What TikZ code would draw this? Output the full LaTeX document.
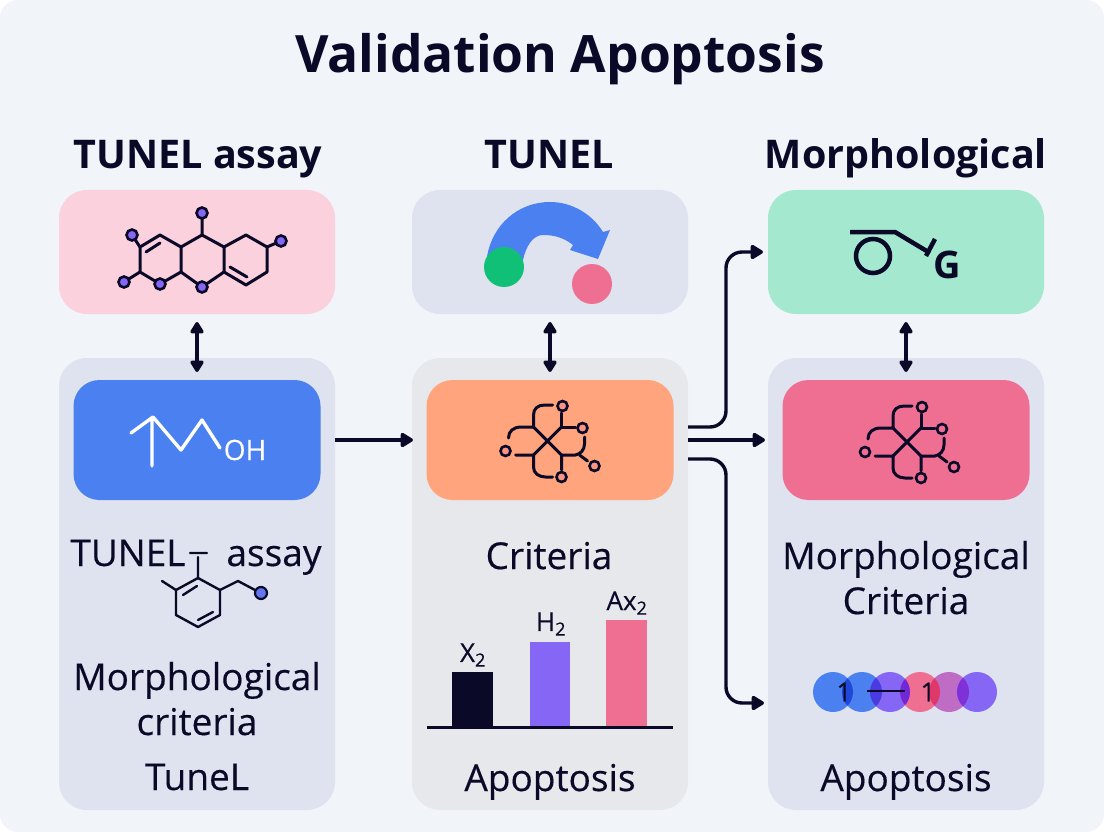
\documentclass[tikz,border=0pt]{standalone}
\usepackage{fontspec}
\setmainfont{Open Sans}
\newfontfamily\labfont[FakeBold=0.35]{Open Sans}
\usetikzlibrary{arrows.meta,calc}
\definecolor{pagebg}{HTML}{F1F4F8}
\definecolor{inkdark}{HTML}{0A0A28}
\definecolor{panelblue}{HTML}{DFE3F0}
\definecolor{panelgrey}{HTML}{E7E8EC}
\definecolor{rosebox}{HTML}{FAD1DC}
\definecolor{mintbox}{HTML}{A5E8D0}
\definecolor{bluebox}{HTML}{4A80F0}
\definecolor{orangebox}{HTML}{FFA47C}
\definecolor{pinkbox}{HTML}{EF6F93}
\definecolor{purplefill}{HTML}{8566F5}
\definecolor{mauvefill}{HTML}{BE6CC4}
\definecolor{greenfill}{HTML}{10C076}
\tikzset{
  panel/.style={rounded corners=28pt,minimum width=276pt,minimum height=#1,inner sep=0pt,outer sep=0pt},
  iconbox/.style={rounded corners=26pt,minimum width=247pt,minimum height=120pt,inner sep=0pt,outer sep=0pt},
  head/.style={font=\fontsize{39.5}{40}\selectfont\bfseries,text=inkdark,anchor=base,inner sep=0pt},
  lab/.style={font=\fontsize{37}{40}\selectfont\labfont,text=inkdark,anchor=base,inner sep=0pt},
  small/.style={font=\fontsize{26}{26}\selectfont\labfont,text=inkdark,inner sep=0pt},
  bond/.style={draw=inkdark,line width=3pt,line cap=round,line join=round},
  atom/.style={draw=inkdark,line width=2.6pt,fill=purplefill},
  link/.style={draw=inkdark,line width=3.4pt,-{Triangle[length=14pt,width=16pt,round]}},
  twoway/.style={draw=inkdark,line width=3.4pt,{Triangle[length=13pt,width=15pt,round]}-{Triangle[length=13pt,width=15pt,round]},shorten <=8pt,shorten >=8pt}
}
% branched motif used on the orange and the pink box
\newcommand{\motif}[3]{
  \begin{scope}[shift={(#1,#2)}]
    \draw[bond] (-14,14) -- (14,-14) (-14,-14) -- (14,14);
    \draw[bond] (5,-36) -- (-3,-36) .. controls (-10,-36) and (-14,-32) .. (-14,-26) -- (-14,-14) -- (-26,-14) .. controls (-34,-14) and (-39,-10) .. (-39,-3);
    \draw[bond] (-32,14) -- (-14,14) -- (-14,26) .. controls (-14,32) and (-9,36) .. (-2,36) -- (5,36);
    \draw[bond] (14,-28) -- (14,-14) -- (28,-14);
    \draw[bond] (14,29) -- (14,14) -- (28,14) .. controls (33,13) and (37,9) .. (37,3) -- (37,-4);
    \draw[bond] (32,14) -- (40,20);
    \draw[atom,fill=#3] (15,-35) circle (5);
    \draw[atom,fill=#3] (35,-13) circle (5);
    \draw[atom,fill=#3] (-42,10) circle (5);
    \draw[atom,fill=#3] (14,36) circle (5);
    \draw[atom,fill=#3] (47,25) circle (5);
  \end{scope}
}
\begin{document}
\begin{tikzpicture}[x=1pt,y=-1pt]
  \useasboundingbox (0,0) rectangle (1104,832);
  \fill[white] (0,0) rectangle (1104,832);
  \fill[pagebg,rounded corners=18pt] (0,0) rectangle (1104,832);

  % panels and boxes
  \node[panel=452pt,fill=panelblue] (leftpanel) at (197,584) {};
  \node[panel=452pt,fill=panelgrey] (midpanel) at (550,584) {};
  \node[panel=452pt,fill=panelblue] (rightpanel) at (906,584) {};
  \node[panel=124pt,fill=rosebox] (tunelbox) at (197,252) {};
  \node[panel=124pt,fill=panelblue] (turnbox) at (550,252) {};
  \node[panel=124pt,fill=mintbox] (morphbox) at (906,252) {};
  \node[iconbox,fill=bluebox] (hydroxbox) at (197,440) {};
  \node[iconbox,fill=orangebox] (critbox) at (550,440) {};
  \node[iconbox,fill=pinkbox] (morphcrit) at (906,440) {};

  % texts
  \node[font=\fontsize{51.5}{52}\selectfont\bfseries,text=inkdark,anchor=base,inner sep=0pt] (title) at (560,73) {Validation Apoptosis};
  \node[head] (headleft) at (198,169) {TUNEL assay};
  \node[head] (headmid) at (549,169) {TUNEL};
  \node[head] (headright) at (906,169) {Morphological};
  \node[lab] (assayname) at (128,566) {TUNEL};
  \node[lab] (assayword) at (274,566) {assay};
  \node[lab] (leftcritA) at (197,690) {Morphological};
  \node[lab] (leftcritB) at (197,735) {criteria};
  \node[lab] (leftname) at (197,790) {TuneL};
  \node[lab] (midcrit) at (549,569) {Criteria};
  \node[lab] (midname) at (550,791) {Apoptosis};
  \node[lab] (rightcritA) at (906,569) {Morphological};
  \node[lab] (rightcritB) at (906,614) {Criteria};
  \node[lab] (rightname) at (906,791) {Apoptosis};

  % connectors
  \draw[twoway] (tunelbox.south) to (hydroxbox.north);
  \draw[twoway] (turnbox.south) to (critbox.north);
  \draw[twoway] (morphbox.south) to (morphcrit.north);
  \draw[link,shorten >=-1pt] (leftpanel.east |- hydroxbox) to (midpanel.west |- critbox);
  \draw[link,shorten >=3pt] (midpanel.east |- critbox) to (rightpanel.west |- morphcrit);
  \coordinate (forkup) at (688,427);
  \coordinate (forkdown) at (688,459);
  \coordinate (dotsend) at (764,703);
  \draw[link,rounded corners=16pt,shorten >=5pt] (forkup) -- (726,427) -- (726,252) -- (morphbox.west);
  \draw[link,rounded corners=16pt] (forkdown) -- (726,459) -- (726,703) -- (dotsend);

  % ring system on the rose box
  \draw[bond] (140,247) -- (160,235) -- (181,247) -- (202,235) -- (224,247) -- (246,235) -- (267,247) -- (267,272) -- (246,285) -- (224,272) -- (202,287) -- (181,272) -- (160,284) -- (140,272) -- cycle;
  \draw[bond] (181,247) -- (181,272) (224,247) -- (224,272) (202,235) -- (202,213) (267,247) -- (281,241) (140,272) -- (124,282) (140,247) -- (132,235);
  \draw[bond] (146,252) -- (160,243) (230,267) -- (247,277);
  \foreach \px/\py in {202/213,132/235,281/241,124/282,160/284,202/287}
    \draw[atom] (\px,\py) circle (5.5);

  % white chain on the blue box
  \draw[white,line width=3.4pt,line cap=round,line join=round] (131,433) -- (153,417) -- (181,450) -- (202,420) -- (220,448) (152,420) -- (152,466);
  \node[font=\fontsize{28}{28}\selectfont\labfont,text=white,inner sep=0pt] (ohlabel) at (245,450) {OH};

  % ring under the assay label
  \draw[bond,line width=2.4pt] (198,578) -- (220,590) -- (220,615) -- (198,627) -- (176,615) -- (176,590) -- cycle;
  \draw[bond,line width=2.4pt] (198,578) -- (198,557) (190,553) -- (207,553) (176,590) -- (162,581) (220,590) -- (238,581) -- (255,590) (183,595) -- (197,586) (198,620) -- (213,612);
  \draw[atom,line width=2.2pt,fill=bluebox!60!purplefill] (261,593) circle (6);

  % curved arrow with the two dots
  \fill[bluebox] (487,257) .. controls (492,225) and (518,202) .. (550,202) .. controls (572,202) and (592,214) .. (603,232) -- (610,230) -- (598,259) -- (570,250) -- (573,245) .. controls (563,237) and (553,235) .. (543,235) .. controls (533,235) and (526,246) .. (523,260) -- cycle;
  \fill[greenfill] (504,267) circle (20);
  \fill[pinkbox] (592,284) circle (20);

  \motif{547.5}{441}{orangebox!70!pinkbox}

  % bars
  \fill[inkdark] (452,672) rectangle (493,727);
  \fill[purplefill] (530,642) rectangle (570,727);
  \fill[pinkbox] (606,620) rectangle (647,727);
  \coordinate (axisleft) at (427,727);
  \coordinate (axisright) at (673,727);
  \draw[inkdark,line width=3pt] (axisleft) -- (axisright);
  \node[small] (barx) at (473,655) {X\textsubscript{2}};
  \node[small] (barh) at (551,624) {H\textsubscript{2}};
  \node[small] (bara) at (627,603) {Ax\textsubscript{2}};

  % switch sign on the green box
  \draw[inkdark,line width=4.5pt,line join=round] (850,232) -- (895,232) -- (930,253);
  \draw[inkdark,line width=4.5pt] (935,239) -- (926,256);
  \draw[inkdark,line width=4.5pt] (873,256) circle (17);
  \node[font=\fontsize{38}{38}\selectfont\bfseries,text=inkdark,inner sep=0pt] (glabel) at (947,265) {G};

  \motif{907}{442}{pinkbox}

  % row of dots
  \foreach \cx/\col in {833/bluebox,862/bluebox,890/purplefill,920/pinkbox,949/mauvefill,977/purplefill}
    \fill[\col] (\cx,692) circle (20);
  \foreach \cx/\nx/\col in {833/862/2048D8,862/890/4A3BE0,890/920/7028D8,920/949/E03868,949/977/8030D8} {
    \definecolor{lenscol}{HTML}{\col}
    \begin{scope}
      \clip (\cx,692) circle (20);
      \fill[lenscol] (\nx,692) circle (20);
    \end{scope}
  }
  \draw[inkdark,line width=2.4pt] (867,691) -- (905,691);
  \node[small] (dotleft) at (844,692) {1};
  \node[small] (dotright) at (928,692) {1};
\end{tikzpicture}
\end{document}
